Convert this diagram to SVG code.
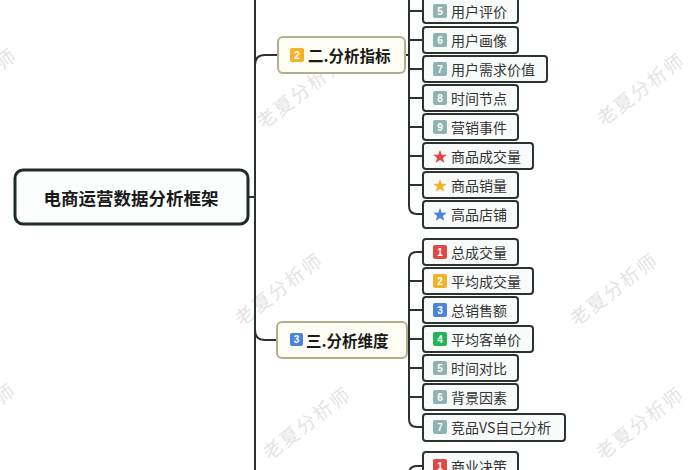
<svg xmlns="http://www.w3.org/2000/svg" width="700" height="470" viewBox="0 0 700 470">
<style>
text{font-family:"Noto Sans CJK SC","Noto Sans",sans-serif;}
.wm{font-size:19px;fill:#e4e4e4;letter-spacing:2px;text-anchor:middle;dominant-baseline:central;}
.line{fill:none;stroke:#2b3330;stroke-width:2;}
.root rect{fill:#fcfefd;stroke:#1f2b26;stroke-width:3;}
.root text{font-size:17.5px;font-weight:bold;fill:#1a1a1a;text-anchor:middle;dominant-baseline:central;}
.br rect.b{fill:#fdfdf3;stroke:#b3ae8c;stroke-width:2;}
.br text.t{font-size:15.5px;font-weight:bold;fill:#1a1a1a;dominant-baseline:central;}
.ch rect.b{fill:#f9fbfb;stroke:#2b3330;stroke-width:2;}
.ch text.t{font-size:14px;fill:#333;dominant-baseline:central;}
.num{font-size:10px;fill:#fff;font-weight:bold;text-anchor:middle;dominant-baseline:central;font-family:"Liberation Sans",sans-serif;}
.g{fill:#8fb3b3;}.r{fill:#e04848;}.y{fill:#f2b32a;}.bl{fill:#4a84dc;}.gr{fill:#22b455;}
</style>
<defs>
<path id="star" d="M0,-7 L1.8,-2.3 L6.7,-2.2 L2.9,0.9 L4.2,5.7 L0,3 L-4.2,5.7 L-2.9,0.9 L-6.7,-2.2 L-1.8,-2.3 Z"/>
</defs>
<rect width="700" height="470" fill="#ffffff"/>
<g id="watermarks">
<text class="wm" transform="translate(300,91) rotate(-37.5)">老夏分析师</text>
<text class="wm" transform="translate(640,88) rotate(-37.5)">老夏分析师</text>
<text class="wm" transform="translate(278,288) rotate(-37.5)">老夏分析师</text>
<text class="wm" transform="translate(613,288) rotate(-37.5)">老夏分析师</text>
<text class="wm" transform="translate(306,422) rotate(-37.5)">老夏分析师</text>
<text class="wm" transform="translate(639,422) rotate(-37.5)">老夏分析师</text>
<text class="wm" transform="translate(-28,83) rotate(-37.5)">老夏分析师</text>
<text class="wm" transform="translate(-29,418) rotate(-37.5)">老夏分析师</text>
</g>
<g id="connectors">
<path class="line" d="M255,0 V470"/>
<path class="line" d="M248,197 H255"/>
<path class="line" d="M255,65 Q255,55 265,55 H278"/>
<path class="line" d="M255,330 Q255,340 265,340 H277"/>
<path class="line" d="M405,55 H409"/>
<path class="line" d="M409,0 V206 Q409,214 417,214 H423"/>
<path class="line" d="M409,11 H423 M409,40 H423 M409,69 H423 M409,98 H423 M409,127 H423 M409,156 H423 M409,185 H423"/>
<path class="line" d="M407,340 H409"/>
<path class="line" d="M423,252 H417 Q409,252 409,260 V419 Q409,427 417,427 H423"/>
<path class="line" d="M409,281 H423 M409,310 H423 M409,339 H423 M409,368 H423 M409,397 H423"/>
<path class="line" d="M423,466 H417 Q409,466 409,474"/>
</g>
<g id="root" class="root">
<rect x="15" y="170" width="233" height="54" rx="8"/>
<text x="131" y="197">电商运营数据分析框架</text>
</g>
<g id="branch2" class="br">
<rect class="b" x="278" y="37" width="127" height="36" rx="5"/>
<rect class="y" x="290" y="48" width="14" height="14" rx="2"/>
<text class="num" x="297" y="55">2</text>
<text class="t" x="308" y="55">二.分析指标</text>
</g>
<g id="branch3" class="br">
<rect class="b" x="277" y="322" width="130" height="36" rx="5"/>
<rect class="bl" x="290" y="333" width="13" height="13" rx="2"/>
<text class="num" x="296.5" y="339.5">3</text>
<text class="t" x="306" y="340">三.分析维度</text>
</g>
<g id="c2-5" class="ch"><rect class="b" x="423" y="-2" width="95" height="25" rx="3"/><rect class="g" x="433" y="4" width="14" height="14" rx="2"/><text class="num" x="440" y="11">5</text><text class="t" x="451" y="11">用户评价</text></g>
<g id="c2-6" class="ch"><rect class="b" x="423" y="27" width="95" height="26" rx="3"/><rect class="g" x="433" y="33" width="14" height="14" rx="2"/><text class="num" x="440" y="40">6</text><text class="t" x="451" y="40">用户画像</text></g>
<g id="c2-7" class="ch"><rect class="b" x="423" y="56" width="124" height="26" rx="3"/><rect class="g" x="433" y="62" width="14" height="14" rx="2"/><text class="num" x="440" y="69">7</text><text class="t" x="451" y="69">用户需求价值</text></g>
<g id="c2-8" class="ch"><rect class="b" x="423" y="85" width="95" height="26" rx="3"/><rect class="g" x="433" y="91" width="14" height="14" rx="2"/><text class="num" x="440" y="98">8</text><text class="t" x="451" y="98">时间节点</text></g>
<g id="c2-9" class="ch"><rect class="b" x="423" y="114" width="95" height="26" rx="3"/><rect class="g" x="433" y="120" width="14" height="14" rx="2"/><text class="num" x="440" y="127">9</text><text class="t" x="451" y="127">营销事件</text></g>
<g id="c2-s1" class="ch"><rect class="b" x="423" y="143" width="110" height="26" rx="3"/><use href="#star" x="440" y="157" fill="#e04848"/><text class="t" x="451" y="156">商品成交量</text></g>
<g id="c2-s2" class="ch"><rect class="b" x="423" y="172" width="95" height="26" rx="3"/><use href="#star" x="440" y="186" fill="#f2b32a"/><text class="t" x="451" y="185">商品销量</text></g>
<g id="c2-s3" class="ch"><rect class="b" x="423" y="201" width="95" height="27" rx="3"/><use href="#star" x="440" y="215" fill="#4a84dc"/><text class="t" x="451" y="214">高品店铺</text></g>
<g id="c3-1" class="ch"><rect class="b" x="423" y="239" width="95" height="26" rx="3"/><rect class="r" x="433" y="245" width="14" height="14" rx="2"/><text class="num" x="440" y="252">1</text><text class="t" x="451" y="252">总成交量</text></g>
<g id="c3-2" class="ch"><rect class="b" x="423" y="268" width="110" height="26" rx="3"/><rect class="y" x="433" y="274" width="14" height="14" rx="2"/><text class="num" x="440" y="281">2</text><text class="t" x="451" y="281">平均成交量</text></g>
<g id="c3-3" class="ch"><rect class="b" x="423" y="297" width="95" height="26" rx="3"/><rect class="bl" x="433" y="303" width="14" height="14" rx="2"/><text class="num" x="440" y="310">3</text><text class="t" x="451" y="310">总销售额</text></g>
<g id="c3-4" class="ch"><rect class="b" x="423" y="326" width="110" height="26" rx="3"/><rect class="gr" x="433" y="332" width="14" height="14" rx="2"/><text class="num" x="440" y="339">4</text><text class="t" x="451" y="339">平均客单价</text></g>
<g id="c3-5" class="ch"><rect class="b" x="423" y="355" width="95" height="26" rx="3"/><rect class="g" x="433" y="361" width="14" height="14" rx="2"/><text class="num" x="440" y="368">5</text><text class="t" x="451" y="368">时间对比</text></g>
<g id="c3-6" class="ch"><rect class="b" x="423" y="384" width="95" height="26" rx="3"/><rect class="g" x="433" y="390" width="14" height="14" rx="2"/><text class="num" x="440" y="397">6</text><text class="t" x="451" y="397">背景因素</text></g>
<g id="c3-7" class="ch"><rect class="b" x="423" y="414" width="142" height="27" rx="3"/><rect class="g" x="433" y="420" width="14" height="14" rx="2"/><text class="num" x="440" y="427">7</text><text class="t" x="451" y="427">竞品VS自己分析</text></g>
<g id="c4-1" class="ch"><rect class="b" x="423" y="452" width="95" height="28" rx="3"/><rect class="r" x="433" y="459" width="14" height="14" rx="2"/><text class="num" x="440" y="466">1</text><text class="t" x="451" y="466">商业决策</text></g>
</svg>
